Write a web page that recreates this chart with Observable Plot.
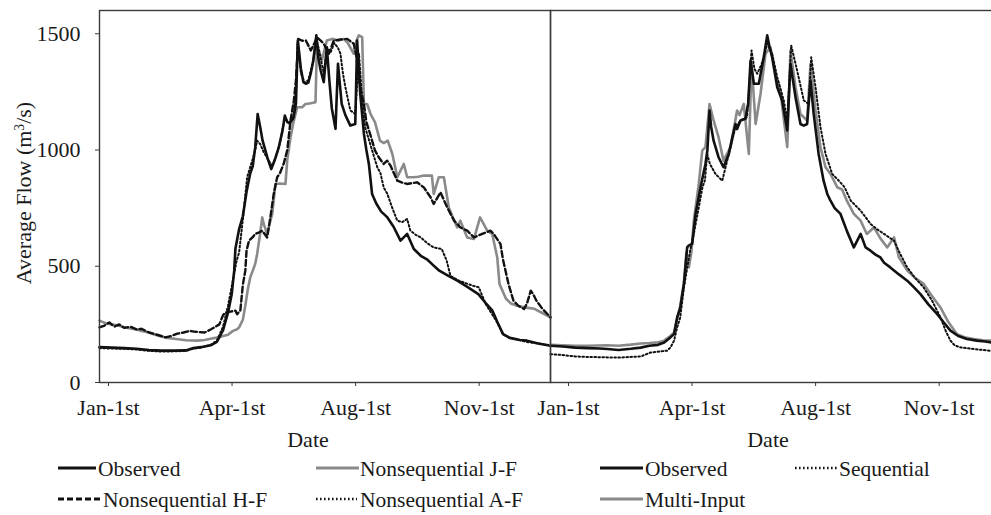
<!DOCTYPE html>
<html>
<head>
<meta charset="utf-8">
<script src="https://cdn.jsdelivr.net/npm/d3@7"></script>
<script src="https://cdn.jsdelivr.net/npm/@observablehq/plot@0.6"></script>
<style>
  html, body { margin: 0; padding: 0; background: #fff; overflow: hidden; }
  #wrap { position: relative; width: 991px; height: 515px; overflow: hidden; font-family: 'Liberation Serif', 'Times New Roman', serif; color: #1a1a1a; }
  #wrap > .panel { position: absolute; top: 0; }
  .lbl { position: absolute; font-size: 22px; white-space: nowrap; line-height: 1; }
</style>
</head>
<body>
<div id="wrap"></div>
<script>
// ---------- data (day of year, average flow m3/s) ----------
const xTicks = [0, 100, 200, 300];
const xTickLabels = ["Jan-1st", "Apr-1st", "Aug-1st", "Nov-1st"];
const yTicks = [0, 500, 1000, 1500];

// Left panel
const observedLeft = [[0,152],[10,150],[20,148],[30,145],[40,140],[50,137],[60,137],[70,138],[76,148],[82,152],[90,160],[95,175],[100,225],[104,300],[107,380],[109,480],[110,575],[113,660],[116,715],[119,820],[122,900],[124,930],[126,1010],[128,1155],[130,1100],[132,1040],[136,965],[139,918],[142,960],[145,1010],[148,1080],[150,1148],[152,1120],[154,1115],[157,1140],[159,1200],[160.5,1471],[163,1350],[165,1292],[167,1285],[169,1290],[171,1330],[173,1385],[175.5,1493],[177,1400],[179,1342],[181.5,1292],[184,1442],[186,1300],[188,1180],[191,1091],[193,1371],[196,1198],[199,1150],[203,1105],[207,1112],[208.5,1471],[211,1242],[214,1069],[216,1000],[218,940],[220.6,811],[224,770],[228,735],[233,710],[238,670],[243.6,610],[249,639],[254.4,574],[260,545],[265,530],[270,505],[275,481],[282,460],[289.6,438],[298,410],[306.6,380],[312,345],[318,309],[322,260],[326.6,208],[332,192],[340,183],[346,180],[355,168],[365,158]];
const nonseqJF = [[0,266],[5,255],[10,250],[15,245],[20,238],[25,232],[30,228],[34,222],[40,215],[45,205],[50,198],[55,192],[62,187],[70,182],[79,180],[85,183],[90,188],[96,194],[100,200],[104,205],[108,222],[111,228],[113,237],[116,270],[118,330],[120,400],[122,452],[124,480],[126,510],[127.6,553],[130,640],[131.7,710],[133,680],[135.7,639],[138,690],[139.8,725],[142.4,854],[146,856],[150.5,854],[152,960],[154.6,1055],[157,1120],[160,1184],[164,1184],[166.7,1198],[170,1200],[174.8,1205],[176,1457],[178,1420],[180,1385],[182,1430],[184,1471],[189,1478],[193,1470],[197.7,1478],[201,1460],[205.8,1414],[208,1470],[209.9,1493],[212.6,1485],[214,1198],[216.6,1198],[219.3,1155],[223,1119],[227,1040],[230,1030],[233.3,1040],[237,983],[241,883],[246.3,940],[249,883],[254,883],[258,885],[262.5,890],[269,890],[270.5,811],[274.6,883],[278.7,883],[282.7,753],[286,710],[289.5,667],[292,696],[297.6,624],[303,617],[308,710],[313.8,653],[317.8,639],[321.9,538],[323.7,424],[329,360],[333,340],[338,330],[345,322],[352,317],[358,300],[365,280]];
const nonseqHF = [[0,237],[4,245],[8,258],[12,240],[16,250],[20,235],[25,240],[30,228],[34,231],[40,215],[45,208],[50,200],[53.5,194],[58,200],[63,210],[68,215],[73,222],[78,218],[85,215],[90,228],[93,237],[97,250],[100,290],[102,301],[106,305],[110,309],[111.4,294],[114,310],[116,420],[118,480],[119,567],[121,610],[124,625],[126,639],[129,645],[131.7,653],[133.5,640],[135.7,624],[138,700],[141,811],[143.8,883],[146,900],[149,940],[152,1000],[154.6,1127],[157.3,1213],[159,1300],[160.8,1478],[164,1470],[167,1471],[171,1428],[174,1460],[176,1485],[179,1470],[181.5,1457],[185.6,1414],[189.6,1471],[195,1475],[200.5,1478],[205.8,1457],[208,1400],[211,1270],[214,1198],[216,1120],[219,1069],[223,997],[226,969],[230,940],[232.8,954],[235.5,933],[241,868],[245,860],[249,854],[257,861],[262.5,839],[268,796],[270.5,768],[276,818],[281.4,753],[287,696],[292,667],[297.6,653],[303,624],[309.7,639],[316.4,653],[319,639],[324.5,596],[326.5,530],[331,424],[335,352],[339,330],[343.6,316],[346,340],[349,395],[351,380],[353.6,352],[358,320],[365,280]];
const nonseqAF = [[0,148],[10,146],[20,145],[30,142],[40,136],[50,133],[60,134],[70,136],[76,146],[82,150],[90,162],[95,180],[100,240],[104,330],[108,440],[111,524],[113,560],[116,700],[119.5,883],[121,910],[123.6,954],[126,1000],[127.6,1040],[130,1026],[133,990],[137,954],[140,930],[143,975],[146,1030],[150,1140],[153,1115],[157,1135],[159,1250],[160.5,1465],[163,1330],[166,1290],[169,1300],[173,1380],[175.5,1480],[178,1420],[181.5,1330],[184,1440],[187,1420],[190,1460],[193,1440],[195,1414],[197,1330],[199,1270],[203,1170],[207,1155],[210,1414],[212.6,1213],[215,1098],[220.7,997],[224.8,926],[227.4,900],[230,839],[233,811],[237,750],[241,696],[245,690],[249,703],[251.6,653],[256,635],[260,624],[265,600],[270.5,581],[277,574],[281,524],[284,459],[290,440],[298,424],[303,415],[307,409],[312.5,338],[317,300],[321,266],[326.6,208],[332,192],[338,187],[345,175],[355,168],[365,160]];

// Right panel
const observedRight = [[0,158],[10,155],[20,150],[30,148],[40,146],[46,144],[55,140],[65,145],[73,150],[80,158],[87,162],[92,172],[97,194],[100,208],[102.5,280],[105,320],[108,424],[110.6,581],[112,590],[114.7,596],[117.4,725],[121.4,839],[125.4,940],[127,1000],[128.7,1170],[130,1100],[132,1040],[136,969],[140,926],[144.3,983],[147,1050],[149.7,1112],[151,1090],[153.8,1127],[157.8,1134],[160,1200],[161.9,1385],[164.6,1285],[168.6,1285],[172.6,1399],[175.4,1493],[177,1450],[179.4,1399],[183.5,1270],[187.5,1213],[191.6,1084],[194.2,1371],[198.3,1227],[202.3,1112],[205,1105],[207.7,1112],[210.4,1299],[213,1155],[217,983],[221,868],[224,811],[226.6,782],[230,750],[234.7,725],[240,650],[245.5,581],[251,639],[255,581],[259,567],[263,550],[267,538],[270,515],[275,495],[282,465],[288.7,438],[294,410],[299.4,380],[306,335],[313,294],[318,260],[323.7,223],[330,200],[337,187],[345,180],[352,176],[357,172],[365,168]];
const multiInput = [[0,162],[10,160],[20,158],[30,158],[46,160],[55,158],[65,163],[73,168],[80,170],[87,173],[92,180],[97,200],[100,215],[102.5,275],[105,330],[108,430],[110,560],[112,495],[114,560],[116,696],[120,854],[122.8,997],[125.4,1012],[128.7,1198],[132,1127],[136,1055],[140,954],[145.7,1012],[151,1170],[153,1150],[156.4,1198],[160.5,983],[162.7,1371],[166,1112],[170,1242],[174,1414],[178,1442],[182,1328],[186,1256],[191.6,1012],[194.2,1428],[198.3,1270],[202.3,1155],[207.7,1127],[210.4,1371],[214.5,1170],[218.5,1012],[222.6,926],[226.6,897],[232,840],[236,830],[240,780],[245.5,725],[251,696],[256,639],[261.7,667],[267,620],[272.5,581],[278,624],[282,538],[288.7,481],[295,450],[302,424],[309,370],[315.6,323],[322,260],[329,208],[335,195],[342.6,187],[350,182],[357,180],[365,178]];
const sequential = [[0,122],[10,118],[20,112],[30,110],[46,108],[55,107],[65,110],[73,112],[81,129],[88,133],[94.4,137],[97,150],[100,180],[102.5,237],[105,280],[108,410],[113,567],[116,640],[120,753],[123,840],[125,870],[126.8,983],[129,940],[133.5,897],[139,868],[143,954],[146,1020],[149.7,1098],[153.8,1127],[159,1141],[160.5,1250],[162.7,1428],[165,1350],[167.3,1328],[171,1371],[175.4,1457],[179.4,1414],[183.5,1313],[188.8,1213],[191.6,1127],[194.8,1450],[199.6,1342],[205,1213],[209,1198],[211,1399],[214.5,1270],[218.5,1098],[222.6,983],[228,897],[233,870],[238,840],[243,782],[251,739],[259,682],[264,660],[270,639],[278,610],[283,553],[288.7,495],[295,450],[302,409],[309,350],[315.6,280],[320,220],[323.7,180],[327,160],[331.8,151],[342.6,144],[350,140],[357,136],[365,134]];

const legendLeft = [["Observed", "Nonsequential J-F"], ["Nonsequential H-F", "Nonsequential A-F"]];
const legendRight = [["Observed", "Sequential"], ["Multi-Input"]];

// ---------- styles ----------
const BLACK = "#111", GRAY = "#8a8a8a", AXIS = "#3a3a3a";
const sty = {
  solid:  {stroke: BLACK, strokeWidth: 2.6},
  gray:   {stroke: GRAY, strokeWidth: 2.6},
  dashed: {stroke: BLACK, strokeWidth: 2.4, strokeDasharray: "6,3"},
  dotted: {stroke: BLACK, strokeWidth: 2, strokeDasharray: "1.6,2.4"}
};
const plotStyle = {fontFamily: "'Liberation Serif', 'Times New Roman', serif", fontSize: "22px", color: "#1a1a1a", background: "transparent", overflow: "visible"};
const fmtX = d => xTickLabels[xTicks.indexOf(d)];
const ln = (data, s) => Plot.line(data, {x: d => d[0], y: d => d[1], ...s, strokeLinejoin: "round"});

const wrap = document.getElementById("wrap");

const left = Plot.plot({
  width: 551, height: 450, marginLeft: 99, marginRight: 1, marginTop: 10, marginBottom: 68,
  x: {domain: [0, 365]}, y: {domain: [0, 1600]},
  style: plotStyle,
  marks: [
    Plot.axisY({ticks: yTicks, tickSize: 4, tickPadding: 15, label: null, tickFormat: d => String(d), stroke: AXIS}),
    Plot.axisX({ticks: xTicks, tickSize: 4, tickPadding: 13, label: null, tickFormat: fmtX, dx: 9, stroke: AXIS}),
    ln(nonseqJF, sty.gray),
    ln(nonseqHF, sty.dashed),
    ln(nonseqAF, sty.dotted),
    ln(observedLeft, sty.solid),
    Plot.frame({stroke: AXIS, strokeWidth: 1.4})
  ]
});
left.classList.add("panel");
left.style.left = "0px";
wrap.appendChild(left);

const right = Plot.plot({
  width: 452, height: 450, marginLeft: 1, marginRight: 0, marginTop: 10, marginBottom: 68,
  x: {domain: [0, 365]}, y: {domain: [0, 1600], axis: null},
  style: plotStyle,
  marks: [
    Plot.axisX({ticks: xTicks, tickSize: 4, tickPadding: 13, label: null, tickFormat: fmtX, dx: 18, stroke: AXIS}),
    ln(multiInput, sty.gray),
    ln(sequential, sty.dotted),
    ln(observedRight, sty.solid),
    Plot.frame({stroke: AXIS, strokeWidth: 1.4})
  ]
});
right.classList.add("panel");
right.style.left = "549px";
wrap.appendChild(right);

// axis titles
function addLabel(html, x, y, rotate) {
  const d = document.createElement("div");
  d.className = "lbl";
  d.innerHTML = html;
  d.style.left = x + "px";
  d.style.top = y + "px";
  d.style.transform = "translate(-50%,-50%)" + (rotate ? " rotate(-90deg)" : "");
  wrap.appendChild(d);
}
addLabel("Date", 308, 440);
addLabel("Date", 768, 440);
addLabel('Average Flow (m<span style="font-size:0.62em;vertical-align:0.55em">3</span>/s)', 24, 193, true);

// legend
const lg = d3.select(wrap).append("svg")
  .attr("width", 991).attr("height", 90)
  .style("position", "absolute").style("left", "0px").style("top", "430px")
  .style("font-family", "'Liberation Serif', 'Times New Roman', serif")
  .style("font-size", "21.5px");
const items = [
  {label: legendLeft[0][0],  s: sty.solid,  x1: 58,  x2: 96,  tx: 98,  row: 0},
  {label: legendLeft[0][1],  s: sty.gray,   x1: 316, x2: 359, tx: 360, row: 0},
  {label: legendRight[0][0], s: sty.solid,  x1: 600, x2: 643, tx: 645, row: 0},
  {label: legendRight[0][1], s: sty.dotted, x1: 795, x2: 837, tx: 839, row: 0},
  {label: legendLeft[1][0],  s: sty.dashed, x1: 58,  x2: 101, tx: 103, row: 1},
  {label: legendLeft[1][1],  s: sty.dotted, x1: 316, x2: 357, tx: 360, row: 1},
  {label: legendRight[1][0], s: sty.gray,   x1: 600, x2: 643, tx: 645, row: 1}
];
const rowY = [38, 69];
items.forEach(it => {
  const y = rowY[it.row];
  lg.append("line").attr("x1", it.x1).attr("x2", it.x2).attr("y1", y).attr("y2", y)
    .attr("stroke", it.s.stroke).attr("stroke-width", it.s.strokeWidth + 0.4)
    .attr("stroke-dasharray", it.s.strokeDasharray || null);
  lg.append("text").attr("x", it.tx).attr("y", y).attr("dy", "0.35em")
    .attr("fill", "#1a1a1a").text(it.label);
});
</script>
</body>
</html>
